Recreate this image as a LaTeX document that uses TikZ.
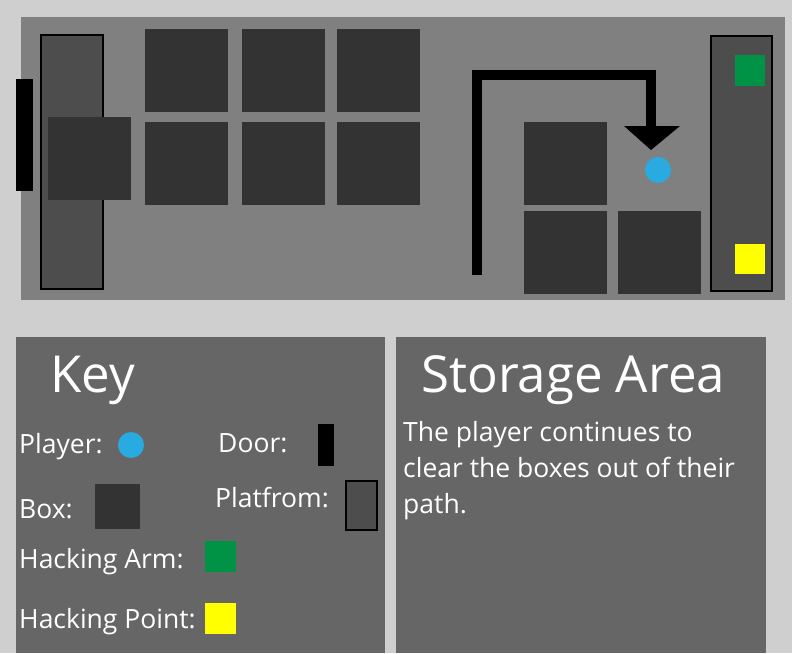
\documentclass[tikz,border=0pt]{standalone}
\usepackage{fontspec}
\setmainfont{Open Sans}
\definecolor{bg}{HTML}{CFCFCF}
\definecolor{room}{HTML}{808080}
\definecolor{plat}{HTML}{4D4D4D}
\definecolor{boxc}{HTML}{333333}
\definecolor{panel}{HTML}{666666}
\definecolor{pl}{HTML}{29ABE2}
\definecolor{arm}{HTML}{009245}
\definecolor{pt}{HTML}{FFFF00}
\tikzset{boxr/.style={fill=boxc,draw=none},
platr/.style={fill=plat,draw=black,line width=2pt},
lbl/.style={text=white,anchor=base west,inner sep=0pt,font=\fontsize{26.5}{30}\selectfont}}
\begin{document}
\begin{tikzpicture}[x=1pt,y=-1pt]
\fill[bg] (0,0) rectangle (792,653);
\useasboundingbox (0,0) rectangle (792,653);
\fill[room] (21,17) rectangle (785,300);
\draw[platr] (41,35) rectangle (103,289);
\fill[black] (16,79) rectangle (33,191);
\foreach \x/\y in {48/117,145/29,242/29,337/29,145/122,242/122,337/122,524/122,524/211,618/211}
  \fill[boxc] (\x,\y) rectangle ++(83,83);
\coordinate (a0) at (477,275);
\coordinate (a1) at (477,75);
\coordinate (a2) at (651,75);
\coordinate (a3) at (651,128);
\draw[line width=10pt] (a0) -- (a1) -- (a2) -- (a3);
\fill[black] (624,126) -- (680,126) -- (651,150) -- cycle;
\node[circle,fill=pl,minimum size=26pt,inner sep=0pt] (player) at (658,170) {};
\draw[platr] (711,36) rectangle (772,291);
\fill[arm] (735,55) rectangle (765,86);
\fill[pt] (735,244) rectangle (765,274);
% panels
\fill[panel] (16,337) rectangle (385,653);
\fill[panel] (396,337) rectangle (766,653);
\node[lbl,font=\fontsize{51}{55}\selectfont] (key) at (50,392) {Key};
\node[lbl,font=\fontsize{51}{55}\selectfont] (sa) at (421,392) {Storage Area};
\node[lbl] (lp) at (19,453) {Player:};
\node[circle,fill=pl,minimum size=26pt,inner sep=0pt] (kp) at (131,445) {};
\node[lbl] (ld) at (218,452) {Door:};
\fill[black] (318,424) rectangle (334,466);
\node[lbl] (lb) at (19,518) {Box:};
\fill[boxc] (95,484) rectangle (140,529);
\node[lbl] (lpf) at (215,507) {Platfrom:};
\draw[platr] (346,481) rectangle (377,530);
\node[lbl] (la) at (19,568) {Hacking Arm:};
\fill[arm] (205,541) rectangle (236,572);
\node[lbl] (lh) at (19,628) {Hacking Point:};
\fill[pt] (205,603) rectangle (236,634);
\node[lbl,align=left,anchor=north west,font=\fontsize{26.5}{36}\selectfont] (txt) at (403,421) {The player continues to\\clear the boxes out of their\\path.};
\end{tikzpicture}
\end{document}
